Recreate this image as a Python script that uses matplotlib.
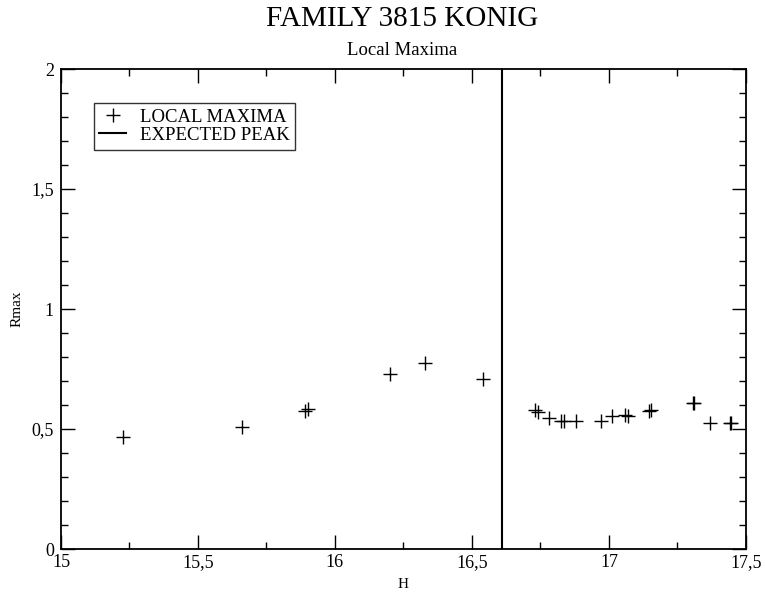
import matplotlib
matplotlib.use("Agg")
import matplotlib.pyplot as plt
from matplotlib.ticker import MultipleLocator, FuncFormatter

plt.rcParams["font.family"] = ["Liberation Serif", "DejaVu Serif"]

# local maxima of R vs H
h_vals = [15.226, 15.66, 15.89, 15.90, 16.20, 16.33, 16.54,
          16.73, 16.74, 16.78, 16.825, 16.835, 16.88, 16.97, 17.01,
          17.06, 17.07, 17.145, 17.155, 17.305, 17.312, 17.37, 17.44, 17.445]
rmax_vals = [0.467, 0.51, 0.575, 0.585, 0.73, 0.775, 0.71,
             0.58, 0.57, 0.545, 0.535, 0.535, 0.535, 0.535, 0.555,
             0.56, 0.555, 0.575, 0.58, 0.61, 0.61, 0.527, 0.527, 0.527]
expected_peak = 16.61

fig = plt.figure(figsize=(7.65, 5.92), dpi=100)
ax = fig.add_axes([0.0797, 0.0726, 0.8954, 0.8108])

ax.plot(h_vals, rmax_vals, linestyle="none", marker="+", markersize=10,
        markeredgewidth=1.0, color="black", label="LOCAL MAXIMA")
ax.axvline(expected_peak, color="black", linewidth=1.5, label="EXPECTED PEAK")

ax.set_xlim(15, 17.5)
ax.set_ylim(0, 2)
ax.xaxis.set_major_locator(MultipleLocator(0.5))
ax.xaxis.set_minor_locator(MultipleLocator(0.25))
ax.yaxis.set_major_locator(MultipleLocator(0.5))
ax.yaxis.set_minor_locator(MultipleLocator(0.1))

comma = FuncFormatter(lambda v, p: ("%g" % v).replace(".", ","))
ax.xaxis.set_major_formatter(comma)
ax.yaxis.set_major_formatter(comma)

ax.tick_params(which="both", direction="in", top=True, right=True,
               labelsize=13, width=1.0)
ax.tick_params(which="major", length=10)
ax.tick_params(axis="y", pad=5)
ax.tick_params(which="minor", length=5)
for sp in ax.spines.values():
    sp.set_linewidth(1.3)

ax.set_xlabel("H", fontsize=11, labelpad=5)
ax.set_ylabel("Rmax", fontsize=11, labelpad=6)

fig.text(0.526, 0.968, "FAMILY 3815 KONIG", ha="center", va="center", fontsize=21)
fig.text(0.526, 0.915, "Local Maxima", ha="center", va="center", fontsize=13.5)

leg = ax.legend(loc="upper left", bbox_to_anchor=(0.048, 0.929), fontsize=13.5,
                frameon=True, fancybox=False, edgecolor="black",
                handlelength=1.4, handletextpad=0.75, borderpad=0.3,
                borderaxespad=0, labelspacing=0.05)
leg.get_frame().set_linewidth(1.0)

fig.savefig("out.png", dpi=100)
